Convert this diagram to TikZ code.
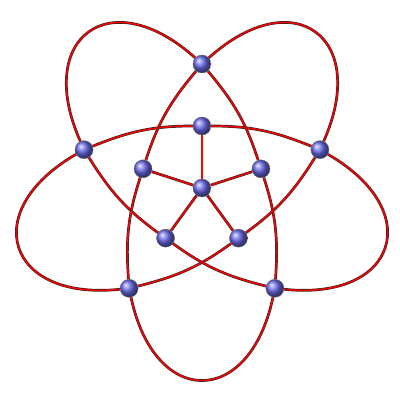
\documentclass[tikz,border=0pt]{standalone}
\usepackage{tikz}
\usetikzlibrary{backgrounds}
\definecolor{edgered}{HTML}{FF0000}
\definecolor{ballblue}{HTML}{6A6AEA}
\tikzset{
  vtx/.style  = {circle, minimum size=18pt, inner sep=0pt, shading=ball,
                 ball color=ballblue, draw=black!60, line width=0.4pt},
  wire/.style = {draw=black!85, double=edgered, double distance=1.5pt,
                 line width=0.6pt},
}
\begin{document}
\begin{tikzpicture}[x=1pt, y=1pt]
  \useasboundingbox (-202,-212) rectangle (198,188);
  \node[vtx] (c) at (0,0) {};
  \foreach \i in {0,...,4}{
    \node[vtx] (o\i) at (90-72*\i:124) {};
    \node[vtx] (i\i) at (90-72*\i:62) {};
  }
  \begin{scope}[on background layer]
    \foreach \i in {0,...,4}{
      \pgfmathsetmacro\a{90-72*\i}
      \pgfmathtruncatemacro\j{mod(\i+1,5)}
      \pgfmathtruncatemacro\k{mod(\i+4,5)}
      \draw[wire] (c) -- (i\i);
      \draw[wire] (o\i) to[out=\a-48, in=\a-24, looseness=2.05] (o\j);
      \draw[wire] (i\i) to[out=\a-90, in=\a+68] (o\j);
      \draw[wire] (i\i) to[out=\a+90, in=\a-68] (o\k);
    }
  \end{scope}
\end{tikzpicture}
\end{document}
